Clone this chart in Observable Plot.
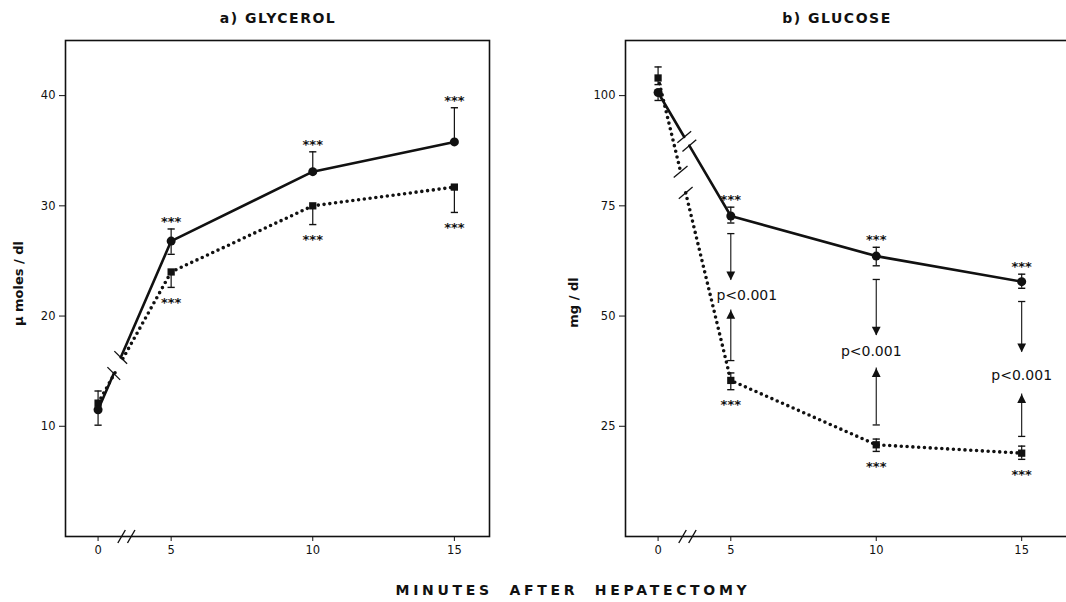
<!DOCTYPE html>
<html><head><meta charset="utf-8">
<script src="https://cdn.jsdelivr.net/npm/d3@7"></script>
<script src="https://cdn.jsdelivr.net/npm/@observablehq/plot@0.6"></script>
<style>
html,body{margin:0;padding:0;overflow:hidden;background:#fff;width:1066px;height:602px;}
#wrap{position:relative;width:1066px;height:602px;overflow:hidden;font-family:"DejaVu Sans",Arial,sans-serif;color:#111;}
.title{position:absolute;top:10px;font-weight:bold;font-size:14px;letter-spacing:1.5px;transform:translateX(-50%);white-space:nowrap;}
.caption{position:absolute;top:582px;left:573px;transform:translateX(-50%);font-weight:bold;font-size:14px;letter-spacing:3.7px;word-spacing:8px;white-space:nowrap;}
.panel{position:absolute;top:30px;}
.panel svg{max-width:none !important;}
</style></head>
<body><div id="wrap">
<div class="title" style="left:278px">a) GLYCEROL</div>
<div class="title" style="left:837px">b) GLUCOSE</div>
<div class="panel" id="left" style="left:0px;width:500px"></div>
<div class="panel" id="right" style="left:560px;width:525px"></div>
<div class="caption">MINUTES AFTER HEPATECTOMY</div>
</div>
<script>
// ---------- data ----------
const minutes = [0, 5, 10, 15];
const xTickLabels = ["0", "5", "10", "15"];

// a) Glycerol, µmoles/dl
const glyTicks = [10, 20, 30, 40];
const glyCircleMean = [11.5, 26.8, 33.1, 35.8];
const glyCircleHi   = [11.5, 27.9, 34.9, 38.9];
const glyCircleLo   = [10.1, 25.6, 33.1, 35.8];
const glySquareMean = [12.1, 24.0, 30.0, 31.7];
const glySquareHi   = [13.2, 24.0, 30.0, 31.7];
const glySquareLo   = [12.1, 22.6, 28.3, 29.4];

// b) Glucose, mg/dl
const gluTicks = [25, 50, 75, 100];
const gluCircleMean = [100.7, 72.7, 63.6, 57.8];
const gluCircleHi   = [100.7, 74.7, 65.6, 59.5];
const gluCircleLo   = [98.9, 71.1, 61.4, 56.3];
const gluSquareMean = [104.0, 35.4, 20.8, 18.9];
const gluSquareHi   = [106.5, 37.1, 22.1, 20.5];
const gluSquareLo   = [102.5, 33.3, 19.3, 17.5];

// significance markers ("***") at these minutes
const starMinutes = [5, 10, 15];
const starText = "***";

// p-value arrows in panel b
const pMinutes   = [5, 10, 15];
const pTopCap    = [68.7, 58.3, 53.3];
const pDownTip   = [58.1, 45.6, 41.8];
const pLabelY    = [54.6, 42.0, 36.5];
const pUpTip     = [51.4, 38.2, 32.3];
const pBottomCap = [39.9, 25.3, 22.7];
const pLabel = "p<0.001";

// ---------- symbols ----------
const rad = s => Math.sqrt(s / Math.PI);
const capSym = {draw(c, s){ const r = rad(s); c.moveTo(-r, 0); c.lineTo(r, 0); }};
const slashSym = deg => ({draw(c, s){ const r = rad(s), a = deg * Math.PI / 180;
  const dx = Math.sin(a) * r, dy = -Math.cos(a) * r; c.moveTo(-dx, -dy); c.lineTo(dx, dy); }});
const triDown = {draw(c, s){ const r = rad(s); c.moveTo(0, 0); c.lineTo(-r*0.55, -r*1.1); c.lineTo(r*0.55, -r*1.1); c.closePath(); }};
const triUp = {draw(c, s){ const r = rad(s); c.moveTo(0, 0); c.lineTo(-r*0.55, r*1.1); c.lineTo(r*0.55, r*1.1); c.closePath(); }};

const FONT = '"DejaVu Sans", Arial, sans-serif';

function panel(cfg) {
  const P = m => m === 0 ? cfg.zeroPos : m;
  const rows = (mean, hi, lo) => minutes.map((m, i) => ({m, x: P(m), y: mean[i], hi: hi[i], lo: lo[i]}));
  const A = rows(cfg.aMean, cfg.aHi, cfg.aLo);   // circles, solid line
  const B = rows(cfg.bMean, cfg.bHi, cfg.bLo);   // squares, dotted line
  const split = (R, t1, t2) => {
    const a = R[0], b = R[1];
    const at = t => ({x: a.x + (b.x - a.x) * t, y: a.y + (b.y - a.y) * t});
    return {first: [a, at(t1)], rest: [at(t2), ...R.slice(1)], br: [at(t1), at(t2)]};
  };
  const sA = split(A, cfg.aBreak[0], cfg.aBreak[1]);
  const sB = split(B, cfg.bBreak[0], cfg.bBreak[1]);
  const caps = [...A, ...B].flatMap(r => [r.hi !== r.y ? {x: r.x, y: r.hi} : null, r.lo !== r.y ? {x: r.x, y: r.lo} : null]).filter(Boolean);
  const bars = [...A, ...B].filter(r => r.hi !== r.lo);
  const solid = {x: "x", y: "y", stroke: "#111", strokeWidth: 2.6};
  const dotted = {x: "x", y: "y", stroke: "#111", strokeWidth: 3.6, strokeDasharray: "0 5.8", strokeLinecap: "round"};
  const marks = [
    Plot.frame({stroke: "#111", strokeWidth: 1.6}),
    Plot.line(sA.first, solid), Plot.line(sA.rest, solid),
    Plot.line(sB.first, dotted), Plot.line(sB.rest, dotted),
    Plot.ruleX(bars, {x: "x", y1: "lo", y2: "hi", stroke: "#111", strokeWidth: 1.2}),
    Plot.dot(caps, {x: "x", y: "y", symbol: capSym, r: 3.6, stroke: "#111", strokeWidth: 1.4}),
    Plot.dot(B, {x: "x", y: "y", symbol: "square", r: 4.1, fill: "#111"}),
    Plot.dot(A, {x: "x", y: "y", symbol: "circle", r: 4.5, fill: "#111"}),
    // line break marks
    Plot.dot(cfg.breakOnBoth ? [...sA.br, ...sB.br] : sA.br, {x: "x", y: "y", symbol: slashSym(cfg.slashAngle), r: 9, stroke: "#111", strokeWidth: 1.3}),
    // axis break "//"
    Plot.dot([cfg.axisBreak - 0.17, cfg.axisBreak + 0.17], {x: d => d, y: () => 0, symbol: slashSym(30), r: 7.5, stroke: "#111", strokeWidth: 1.4}),
    // stars
    Plot.text(A.filter(r => starMinutes.includes(r.m)), {x: "x", y: "hi", text: () => starText, dy: -7, fontSize: 13, fontWeight: "bold", fill: "#111"}),
    Plot.text(B.filter(r => starMinutes.includes(r.m)), {x: "x", y: "lo", text: () => starText, dy: 15, fontSize: 13, fontWeight: "bold", fill: "#111"}),
    // y label
    Plot.text([cfg.yLabel], {frameAnchor: "left", textAnchor: "middle", text: d => d, rotate: -90, dx: cfg.labelDx, dy: cfg.labelDy, fontSize: 13, fontWeight: "bold", fill: "#111"})
  ];
  if (cfg.pvals) {
    const pr = pMinutes.map((m, i) => ({x: P(m), top: pTopCap[i], down: pDownTip[i], lab: pLabelY[i], up: pUpTip[i], bot: pBottomCap[i], dx: cfg.pDx[i]}));
    marks.push(
      Plot.ruleX(pr, {x: "x", y1: "top", y2: "down", stroke: "#111", strokeWidth: 1.1}),
      Plot.ruleX(pr, {x: "x", y1: "up", y2: "bot", stroke: "#111", strokeWidth: 1.1}),
      Plot.dot(pr.flatMap(d => [{x: d.x, y: d.top}, {x: d.x, y: d.bot}]), {x: "x", y: "y", symbol: capSym, r: 3.6, stroke: "#111", strokeWidth: 1.3}),
      Plot.dot(pr, {x: "x", y: "down", symbol: triDown, r: 8, fill: "#111"}),
      Plot.dot(pr, {x: "x", y: "up", symbol: triUp, r: 8, fill: "#111"}),
      ...pr.map(d => Plot.text([d], {x: "x", y: "lab", text: () => pLabel, dx: d.dx, fontSize: 14, fill: "#111"}))
    );
  }
  return Plot.plot({
    width: cfg.width, height: 540,
    marginTop: 10, marginBottom: 34, marginLeft: 65, marginRight: cfg.marginRight,
    x: {domain: cfg.xDomain, ticks: minutes.map(P), tickFormat: v => xTickLabels[minutes.map(P).indexOf(v)], tickSize: 5, tickPadding: 4, label: null},
    y: {domain: cfg.yDomain, ticks: cfg.yTicks, tickSize: 6, tickPadding: 4, label: null},
    style: {fontFamily: FONT, fontSize: "11.5px", color: "#111", background: "transparent", overflow: "visible", maxWidth: "none"},
    marks
  });
}

document.getElementById("left").append(panel({
  width: 500, marginRight: 11, xDomain: [1.27, 16.24], yDomain: [0, 45], yTicks: glyTicks,
  zeroPos: 2.42, axisBreak: 3.42,
  aMean: glyCircleMean, aHi: glyCircleHi, aLo: glyCircleLo,
  bMean: glySquareMean, bHi: glySquareHi, bLo: glySquareLo,
  aBreak: [0.215, 0.31], bBreak: [0.24, 0.34], breakOnBoth: false, slashAngle: 135,
  yLabel: "\u03bc moles / dl", labelDx: -47, labelDy: -5, pvals: false
}));
document.getElementById("right").append(panel({
  width: 525, marginRight: 10, xDomain: [1.38, 16.85], yDomain: [0, 112.5], yTicks: gluTicks,
  zeroPos: 2.5, axisBreak: 3.51,
  aMean: gluCircleMean, aHi: gluCircleHi, aLo: gluCircleLo,
  bMean: gluSquareMean, bHi: gluSquareHi, bLo: gluSquareLo,
  aBreak: [0.36, 0.43], bBreak: [0.31, 0.38], breakOnBoth: true, slashAngle: 50,
  yLabel: "mg / dl", labelDx: -52, labelDy: 14, pvals: true, pDx: [16, -5, 0]
}));
</script>
</body></html>
